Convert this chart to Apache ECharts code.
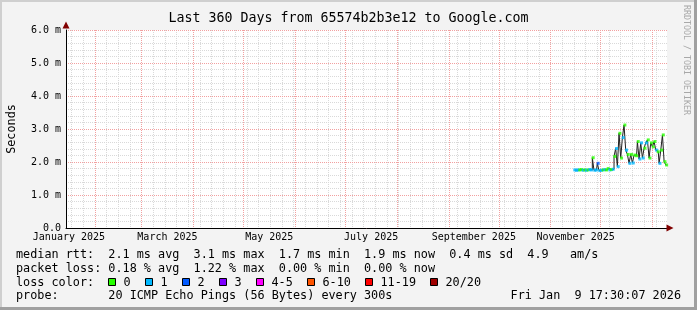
<!DOCTYPE html>
<html><head><meta charset="utf-8">
<script src="https://cdn.jsdelivr.net/npm/echarts@6/dist/echarts.min.js"></script>
<style>html,body{margin:0;padding:0;background:#f3f3f3}#c{width:697px;height:310px}</style>
</head><body><div id="c"></div>
<script>
// ---------------- data ----------------
const titleText = 'Last 360 Days from 65574b2b3e12 to Google.com';
const rangeStart = '2025-01-14 17:30';
const rangeEnd = '2026-01-09 17:30';
const yTickLabels = ['0.0', '1.0 m', '2.0 m', '3.0 m', '4.0 m', '5.0 m', '6.0 m'];
const xLabelMonths = ['2025-01', '2025-03', '2025-05', '2025-07', '2025-09', '2025-11'];
const xLabelTexts = ['January 2025', 'March 2025', 'May 2025', 'July 2025', 'September 2025', 'November 2025'];
const monthGridDates = ['2025-02-01', '2025-03-01', '2025-04-01', '2025-05-01', '2025-06-01', '2025-07-01',
  '2025-08-01', '2025-09-01', '2025-10-01', '2025-11-01', '2025-12-01', '2026-01-01'];
const weekGridFirst = '2025-01-18';

const dates = ['2025-11-15', '2025-11-16', '2025-11-17', '2025-11-18', '2025-11-19', '2025-11-20', '2025-11-21',
  '2025-11-22', '2025-11-23', '2025-11-24', '2025-11-25', '2025-11-26', '2025-11-27', '2025-11-28',
  '2025-11-29', '2025-11-30', '2025-12-01', '2025-12-02', '2025-12-03', '2025-12-04', '2025-12-05',
  '2025-12-06', '2025-12-07', '2025-12-08', '2025-12-09', '2025-12-10', '2025-12-11', '2025-12-12',
  '2025-12-13', '2025-12-14', '2025-12-15', '2025-12-16', '2025-12-17', '2025-12-18', '2025-12-19',
  '2025-12-20', '2025-12-21', '2025-12-22', '2025-12-23', '2025-12-24', '2025-12-25', '2025-12-26',
  '2025-12-27', '2025-12-28', '2025-12-29', '2025-12-30', '2025-12-31', '2026-01-01', '2026-01-02',
  '2026-01-03', '2026-01-04', '2026-01-05', '2026-01-06', '2026-01-07', '2026-01-08', '2026-01-09'];
const medianMs = [1.76, 1.75, 1.76, 1.76, 1.77, 1.75, 1.76, 1.75, 1.76, 1.77,
  1.76, 2.13, 1.75, 1.76, 1.96, 1.74, 1.75, 1.76, 1.77, 1.76,
  1.80, 1.76, 1.77, 1.78, 2.17, 2.41, 1.86, 2.87, 2.12, 2.74,
  3.12, 2.36, 2.23, 1.96, 2.23, 1.97, 2.21, 2.19, 2.62, 2.09,
  2.58, 2.12, 2.42, 2.58, 2.67, 2.12, 2.58, 2.46, 2.62, 2.36,
  2.31, 1.96, 2.36, 2.82, 2.01, 1.91];
const lossPings = [1, 1, 1, 0, 0, 1, 0, 1, 0, 1,
  1, 0, 1, 1, 2, 1, 1, 0, 1, 0,
  0, 1, 0, 1, 0, 1, 1, 0, 0, 1,
  0, 1, 0, 1, 0, 1, 0, 0, 0, 1,
  1, 1, 0, 1, 0, 0, 0, 0, 0, 1,
  0, 1, 0, 0, 0, 0];

const lossLabels = ['0', '1', '2', '3', '4-5', '6-10', '11-19', '20/20'];
const lossColors = ['#26ff00', '#00b8ff', '#0059ff', '#7e00ff', '#ff00ff', '#ff5500', '#ff0000', '#a00000'];
const lossUpper = [0, 1, 2, 3, 5, 10, 19, 20];

const legendRows = [
  'median rtt:  2.1 ms avg  3.1 ms max  1.7 ms min  1.9 ms now  0.4 ms sd  4.9   am/s',
  'packet loss: 0.18 % avg  1.22 % max  0.00 % min  0.00 % now',
  'loss color:',
  'probe:       20 ICMP Echo Pings (56 Bytes) every 300s'
];
const stampText = 'Fri Jan  9 17:30:07 2026';
const watermark = 'RRDTOOL / TOBI OETIKER';

// ---------------- helpers ----------------
const DAY = 86400000, EPOCH = Date.UTC(2025, 0, 1);
function dayNum(s) {
  const parts = s.split(' ');
  const [y, m, d] = parts[0].split('-').map(Number);
  let h = 0, mi = 0;
  if (parts[1]) [h, mi] = parts[1].split(':').map(Number);
  return (Date.UTC(y, m - 1, d || 1, h, mi) - EPOCH) / DAY;
}
const xMin = dayNum(rangeStart), xMax = dayNum(rangeEnd);
const labelPos = xLabelMonths.map(s => {
  const [y, m] = s.split('-').map(Number);
  return ((Date.UTC(y, m - 1, 1) + Date.UTC(y, m, 1)) / 2 - EPOCH) / DAY;
});
const monthPos = monthGridDates.map(dayNum);
const weekPos = [];
for (let v = dayNum(weekGridFirst); v < xMax; v += 7) weekPos.push(v);

function bucket(l) { for (let i = 0; i < lossUpper.length; i++) if (l <= lossUpper[i]) return i; return 7; }

const lineData = dates.map((d, i) => [dayNum(d + ' 12:00'), medianMs[i]]);
const markData = dates.map((d, i) => ({
  value: [dayNum(d + ' 12:00'), medianMs[i]],
  itemStyle: { color: lossColors[bucket(lossPings[i])] }
}));

const MONO = '"DejaVu Sans Mono"';
const minorStyle = { color: '#d9d9d9', width: 1, type: [1, 1] };
const majorStyle = { color: '#f2a0a0', width: 1, type: [1, 1] };

function gridAxis(extra) {
  return Object.assign({
    type: 'value', position: 'bottom', axisLine: { show: false }, axisLabel: { show: false },
    axisTick: { show: false }
  }, extra);
}

// ---------------- legend graphics ----------------
const LEG_FONT = '11.8px ' + MONO;
const rowY = [254.5, 268.5, 282.5, 296.3];
const graphics = [
  { type: 'rect', shape: { x: 0, y: 0, width: 697, height: 2 }, style: { fill: '#cfcfcf' }, silent: true },
  { type: 'rect', shape: { x: 0, y: 0, width: 2, height: 310 }, style: { fill: '#cfcfcf' }, silent: true },
  { type: 'rect', shape: { x: 694, y: 0, width: 3, height: 310 }, style: { fill: '#a0a0a0' }, silent: true },
  { type: 'rect', shape: { x: 0, y: 307, width: 697, height: 3 }, style: { fill: '#a0a0a0' }, silent: true },
  { type: 'text', x: 686.3, y: 5, rotation: -Math.PI / 2,
    style: { text: watermark, font: '8.3px ' + MONO, fill: '#a8a8a8', textAlign: 'left', textVerticalAlign: 'middle' } }
];
legendRows.forEach((t, i) => graphics.push({
  type: 'text', x: 16, y: rowY[i],
  style: { text: t, font: LEG_FONT, fill: '#000', textAlign: 'left', textVerticalAlign: 'middle' }
}));
graphics.push({ type: 'text', x: 681, y: rowY[3],
  style: { text: stampText, font: LEG_FONT, fill: '#000', textAlign: 'right', textVerticalAlign: 'middle' } });
const boxX = [108.5, 145.5, 182.5, 219.5, 256.5, 307.5, 365.5, 430.5];
lossLabels.forEach((lab, i) => {
  graphics.push({ type: 'rect', shape: { x: boxX[i], y: 278.5, width: 7, height: 7 },
    style: { fill: lossColors[i], stroke: '#000', lineWidth: 1 } });
  graphics.push({ type: 'text', x: boxX[i] + 15, y: rowY[2],
    style: { text: lab, font: LEG_FONT, fill: '#000', textAlign: 'left', textVerticalAlign: 'middle' } });
});

// ---------------- chart ----------------
const chart = echarts.init(document.getElementById('c'), null, { renderer: 'canvas' });
chart.setOption({
  animation: false,
  backgroundColor: '#f3f3f3',
  title: {
    text: titleText, left: 'center', top: 12, padding: 0,
    textStyle: { fontFamily: MONO, fontSize: 13.3, fontWeight: 'normal', color: '#000' }
  },
  grid: { left: 66, right: 30, top: 30, bottom: 82, show: true, backgroundColor: '#ffffff', borderWidth: 0, outerBoundsMode: 'none' },
  xAxis: [
    {
      type: 'value', min: xMin, max: xMax, position: 'bottom', z: 3,
      axisLine: { show: true, lineStyle: { color: '#000', width: 1 } },
      axisTick: { show: false },
      splitLine: { show: false },
      axisLabel: {
        customValues: labelPos, margin: 4, color: '#000', fontFamily: MONO, fontSize: 10,
        formatter: v => { const i = labelPos.findIndex(p => Math.abs(p - v) < 0.01); return i >= 0 ? xLabelTexts[i] : ''; }
      }
    },
    gridAxis({ min: xMin, max: xMax, z: 0, axisTick: { show: false, customValues: weekPos }, splitLine: { show: true, lineStyle: minorStyle } }),
    gridAxis({ min: xMin, max: xMax, z: 1, axisTick: { show: false, customValues: monthPos }, splitLine: { show: true, lineStyle: majorStyle } }),
    {
      type: 'value', min: xMin, max: xMax, position: 'bottom', z: 4,
      axisLine: { show: true, symbol: ['none', 'triangle'], symbolSize: [7, 7], symbolOffset: [0, 3],
        lineStyle: { color: '#800000', width: 0 } },
      axisLabel: { show: false }, axisTick: { show: false }, splitLine: { show: false }
    }
  ],
  yAxis: [
    {
      type: 'value', min: 0, max: 6, interval: 1, z: 1,
      name: 'Seconds', nameLocation: 'middle', nameGap: 48, nameRotate: 90,
      nameTextStyle: { fontFamily: MONO, fontSize: 11.8, color: '#000' },
      axisLine: { show: true, lineStyle: { color: '#000', width: 1 } },
      axisTick: { show: false },
      splitLine: { show: true, lineStyle: majorStyle },
      axisLabel: { margin: 5, color: '#000', fontFamily: MONO, fontSize: 10, formatter: v => yTickLabels[Math.round(v)] }
    },
    { type: 'value', min: 0, max: 6, interval: 0.2, z: 0, axisLine: { show: false }, axisLabel: { show: false },
      axisTick: { show: false }, splitLine: { show: true, lineStyle: minorStyle } },
    {
      type: 'value', min: 0, max: 6, interval: 1, z: 4, position: 'left',
      axisLine: { show: true, symbol: ['none', 'triangle'], symbolSize: [7, 7], symbolOffset: [0, 5],
        lineStyle: { color: '#800000', width: 0 } },
      axisLabel: { show: false }, axisTick: { show: false }, splitLine: { show: false }
    }
  ],
  series: [
    {
      type: 'line', xAxisIndex: 0, yAxisIndex: 0, data: lineData, step: 'middle', showSymbol: false,
      lineStyle: { color: '#202020', width: 1 }, z: 5, silent: true
    },
    {
      type: 'scatter', xAxisIndex: 0, yAxisIndex: 0, data: markData, symbol: 'rect', symbolSize: [3, 3],
      z: 6, silent: true
    }
  ],
  graphic: graphics
});
</script></body></html>
